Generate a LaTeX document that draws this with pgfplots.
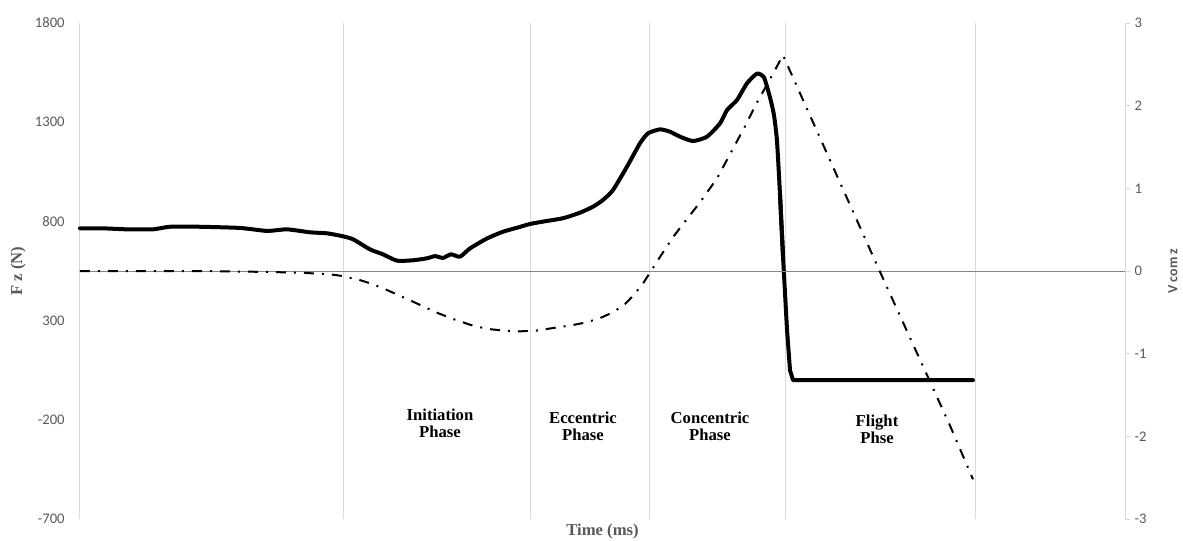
\documentclass[border=0pt]{standalone}
\usepackage{pgfplots}
\pgfplotsset{compat=1.18}
\usepackage{fontspec}
\setmainfont{Liberation Serif}
\newfontfamily\calib{Carlito}
\definecolor{axgray}{HTML}{595959}
\definecolor{gridgray}{HTML}{D9D9D9}
\definecolor{zerogray}{HTML}{868686}

\pgfplotstableread{
x F
0 765
23 765
47 760
73 760
90 773
120 773
160 767
187 752
207 760
230 745
247 740
262 726
273 710
290 659
303 634
317 602
333 604
347 614
355 625
363 616
371 634
380 622
390 664
407 714
423 748
437 768
450 787
463 799
483 816
500 844
513 874
523 908
533 958
547 1076
560 1194
568 1244
580 1264
590 1252
600 1227
613 1205
627 1227
640 1294
647 1361
657 1412
667 1496
677 1545
684 1525
690 1425
694 1335
697 1205
700 935
703 625
}\forcetableA

\pgfplotstableread{
x F
700 935
703 625
707 255
710 50
713 0
893 0
}\forcetableB

\pgfplotstableread{
x V
0 0
60 0
120 0
180 -0.01
220 -0.02
250 -0.04
262 -0.06
280 -0.11
293 -0.16
307 -0.23
320 -0.30
340 -0.41
356 -0.50
373 -0.58
390 -0.65
407 -0.70
423 -0.72
440 -0.73
457 -0.72
473 -0.69
490 -0.66
507 -0.62
520 -0.57
533 -0.50
545 -0.40
553 -0.30
562 -0.17
570 -0.02
580 0.17
593 0.41
607 0.63
620 0.83
637 1.12
653 1.48
665 1.75
677 2.04
690 2.32
703 2.61
800 -0.01
870 -1.87
893 -2.52
}\veltable

\begin{document}
\begin{tikzpicture}
\path[use as bounding box] (-60pt,-15.75pt) rectangle (827.25pt,389.25pt);
\begin{axis}[
  at={(0,0)}, anchor=south west,
  scale only axis, width=783.75pt, height=372pt,
  xmin=0, xmax=1045, ymin=-700, ymax=1800,
  axis y line*=left,
  axis x line*=bottom,
  x axis line style={draw=none},
  y axis line style={gridgray, line width=0.75pt, -},
  xtick={263,450,569,705,895},
  xticklabels={},
  xmajorgrids,
  major x tick style={draw=none},
  major grid style={gridgray, line width=0.75pt},
  ytick={-700,-200,300,800,1300,1800},
  major y tick style={draw=none},
  /pgf/number format/assume math mode=true,
  /pgf/number format/1000 sep={},
  yticklabel style={font=\calib\fontsize{11}{13}\selectfont, text=axgray, xshift=-8pt},
  xlabel={Time (ms)},
  xlabel style={at={(axis description cs:0.5,-0.0242)}, anchor=center, font=\bfseries\fontsize{12.5}{13}\selectfont, text=axgray},
  ylabel={F z (N)},
  ylabel style={at={(axis description cs:-0.0593,0.5)}, anchor=center, font=\bfseries\fontsize{12.5}{13}\selectfont, text=axgray},
  clip=false,
]
\addplot[black, line width=3pt, line join=round, line cap=round, smooth, tension=0.35] table[x=x, y=F] {\forcetableA};
\addplot[black, line width=3pt, line join=round, line cap=round] table[x=x, y=F] {\forcetableB};
\node[align=center, font=\bfseries\fontsize{12.5}{12.75}\selectfont] at (axis cs:360,-216) {Initiation\\Phase};
\node[align=center, font=\bfseries\fontsize{12.5}{12.75}\selectfont] at (axis cs:503,-231) {Eccentric\\Phase};
\node[align=center, font=\bfseries\fontsize{12.5}{12.75}\selectfont] at (axis cs:630,-231) {Concentric\\Phase};
\node[align=center, font=\bfseries\fontsize{12.5}{12.75}\selectfont] at (axis cs:797,-246) {Flight\\Phse};
\end{axis}
\begin{axis}[
  at={(0,0)}, anchor=south west,
  scale only axis, width=783.75pt, height=372pt,
  xmin=0, xmax=1045, ymin=-3, ymax=3,
  axis x line=none,
  axis y line*=right,
  y axis line style={gridgray, line width=0.75pt, -},
  ytick={-3,-2,-1,0,1,2,3},
  tick align=outside,
  major tick length=3.75pt,
  major y tick style={gridgray, line width=0.75pt},
  /pgf/number format/assume math mode=true,
  yticklabel style={font=\calib\fontsize{11}{13}\selectfont, text=axgray},
  extra y ticks={0},
  extra y tick labels={},
  extra y tick style={ymajorgrids=true, major grid style={zerogray, line width=0.75pt}},
  ylabel={V com z},
  ylabel style={at={(axis description cs:1.0459,0.5)}, anchor=center, font=\calib\bfseries\fontsize{10.5}{12}\selectfont, text=axgray},
]
\addplot[black, line width=1.5pt, dash pattern=on 7.5pt off 6pt on 1.5pt off 6pt] table[x=x, y=V] {\veltable};
\end{axis}
\end{tikzpicture}
\end{document}
